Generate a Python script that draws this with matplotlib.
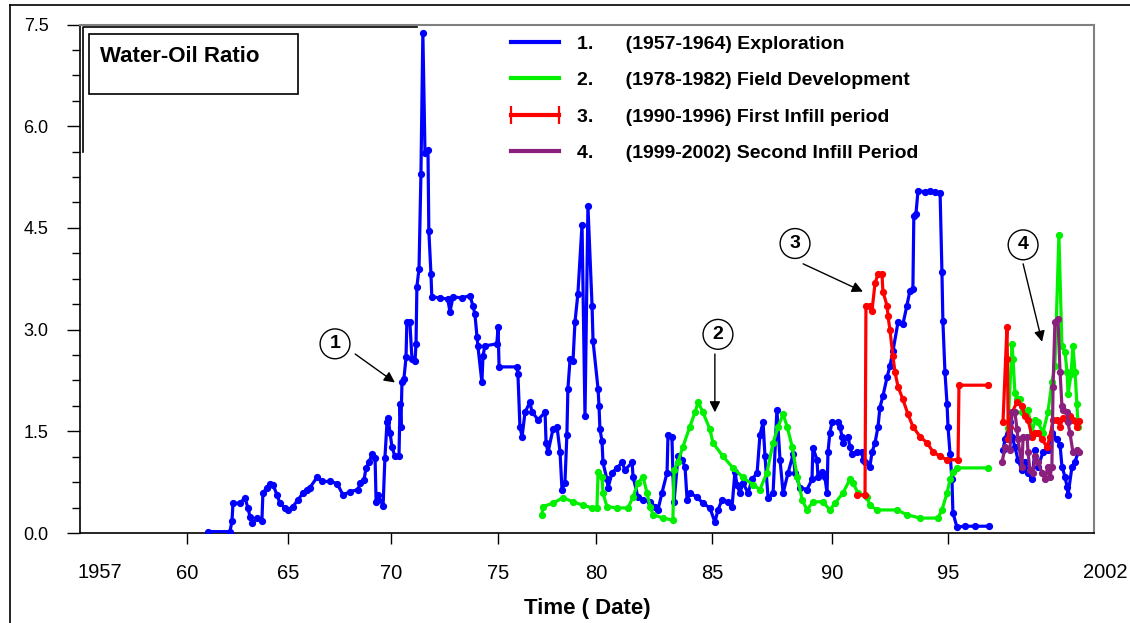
"""Water-Oil Ratio history by development period."""
import numpy as np
import matplotlib
matplotlib.use("Agg")
import matplotlib.pyplot as plt
from matplotlib.lines import Line2D
from matplotlib.patches import Rectangle

plt.rcParams["font.family"] = ["Liberation Sans", "DejaVu Sans"]

nan = np.nan

# ---- data (year, water-oil ratio) ----
expl_year = [1961.02, 1962.11, 1962.21, 1962.26, 1962.61, 1962.85, 1963.00, 1963.10, 1963.20, 1963.45,
             1963.69, 1963.74, 1963.94, 1964.09, 1964.24, 1964.44, 1964.58, 1964.83, 1964.98, 1965.22,
             1965.47, 1965.71, 1965.91, 1966.05, 1966.39, 1966.64, 1967.03, 1967.37, 1967.66, 1968.00,
             1968.39, 1968.49, 1968.68, 1968.78, 1968.92, 1969.07, 1969.22, 1969.27, 1969.36, 1969.61,
             1969.70, 1969.80, 1969.85, 1969.95, 1970.04, 1970.18, 1970.37, 1970.42, 1970.46, 1970.51,
             1970.60, 1970.70, 1970.74, 1970.88, 1970.98, 1971.12, 1971.17, 1971.21, 1971.31, 1971.40,
             1971.49, 1971.59, 1971.73, 1971.77, 1971.87, 1971.91, 1972.29, 1972.66, 1972.76, 1972.90,
             1973.32, 1973.70, 1973.84, 1973.93, 1974.03, 1974.07, 1974.26, 1974.31, 1974.40, 1974.96,
             1975.02, 1975.07, 1975.98, 1976.03, 1976.13, 1976.24, 1976.39, 1976.64, 1976.74, 1977.05,
             1977.41, 1977.46, 1977.56, 1977.81, 1978.02, 1978.17, 1978.27, 1978.42, 1978.52, 1978.57,
             1978.68, 1978.83, 1978.93, 1979.08, 1979.29, 1979.44, 1979.59, 1979.80, 1979.85, 1980.09,
             1980.13, 1980.17, 1980.26, 1980.30, 1980.47, 1980.52, 1980.69, 1980.90, 1981.12, 1981.24,
             1981.55, 1981.59, 1981.80, 1982.02, 1982.32, 1982.53, 1982.66, 1982.83, 1983.05, 1983.09,
             1983.26, 1983.30, 1983.35, 1983.52, 1983.69, 1983.82, 1983.91, 1984.03, 1984.33, 1984.59,
             1984.89, 1985.10, 1985.23, 1985.40, 1985.65, 1985.82, 1985.94, 1986.03, 1986.15, 1986.28,
             1986.49, 1986.66, 1986.87, 1986.99, 1987.12, 1987.20, 1987.33, 1987.54, 1987.70, 1987.83,
             1987.96, 1988.17, 1988.38, 1988.46, 1988.67, 1988.96, 1989.17, 1989.21, 1989.38, 1989.42,
             1989.59, 1989.71, 1989.80, 1989.84, 1989.92, 1990.01, 1990.27, 1990.35, 1990.44, 1990.48,
             1990.70, 1990.78, 1990.87, 1991.08, 1991.30, 1991.34, 1991.43, 1991.64, 1991.73, 1991.86,
             1991.99, 1992.07, 1992.20, 1992.38, 1992.50, 1992.63, 1992.85, 1993.06, 1993.23, 1993.36,
             1993.49, 1993.53, 1993.62, 1993.71, 1994.01, 1994.23, 1994.44, 1994.66, 1994.74, 1994.78,
             1994.87, 1994.96, 1995.00, 1995.09, 1995.17, 1995.21, 1995.38, 1995.73, 1996.15, 1996.75,
             nan,
             1997.35, 1997.44, 1997.65, 1997.74, 1997.86, 1997.99, 1998.16, 1998.29, 1998.42, 1998.59,
             1998.72, 1998.85, 1999.06, 1999.27, 1999.44, 1999.66, 1999.79, 1999.87, 2000.00, 2000.09,
             2000.13, 2000.30, 2000.43, 2000.56]
expl_wor = [0.02, 0.02, 0.18, 0.44, 0.44, 0.52, 0.37, 0.24, 0.15, 0.22,
            0.18, 0.59, 0.67, 0.73, 0.71, 0.56, 0.44, 0.37, 0.34, 0.39,
            0.49, 0.59, 0.64, 0.67, 0.82, 0.76, 0.76, 0.73, 0.56, 0.61,
            0.64, 0.74, 0.78, 0.96, 1.04, 1.16, 1.11, 0.46, 0.56, 0.40,
            1.11, 1.63, 1.69, 1.48, 1.27, 1.13, 1.13, 1.90, 1.57, 2.22,
            2.27, 2.59, 3.11, 3.11, 2.56, 2.53, 2.79, 3.63, 3.90, 5.30,
            7.38, 5.60, 5.65, 4.46, 3.82, 3.48, 3.47, 3.45, 3.26, 3.48,
            3.47, 3.50, 3.35, 3.23, 2.89, 2.76, 2.22, 2.61, 2.76, 2.79,
            3.04, 2.45, 2.45, 2.34, 1.57, 1.42, 1.78, 1.93, 1.79, 1.67,
            1.78, 1.33, 1.19, 1.53, 1.56, 1.20, 0.64, 0.74, 1.45, 2.12,
            2.56, 2.53, 3.11, 3.53, 4.55, 1.72, 4.82, 3.35, 2.83, 2.12,
            1.87, 1.53, 1.35, 1.04, 0.79, 0.67, 0.89, 0.96, 1.04, 0.93,
            1.04, 0.83, 0.53, 0.49, 0.46, 0.39, 0.34, 0.59, 0.89, 1.45,
            1.42, 0.89, 0.46, 1.13, 1.08, 0.98, 0.49, 0.59, 0.53, 0.44,
            0.37, 0.16, 0.34, 0.49, 0.46, 0.39, 0.90, 0.71, 0.59, 0.74,
            0.59, 0.79, 0.89, 1.45, 1.63, 1.13, 0.52, 0.59, 1.82, 1.08,
            0.59, 0.89, 1.16, 0.89, 0.67, 0.64, 0.79, 1.26, 1.08, 0.83,
            0.90, 0.83, 0.59, 1.19, 1.48, 1.63, 1.63, 1.57, 1.42, 1.33,
            1.42, 1.27, 1.16, 1.20, 1.19, 1.08, 1.05, 0.98, 1.19, 1.33,
            1.57, 1.85, 2.02, 2.30, 2.46, 2.68, 3.11, 3.08, 3.35, 3.57,
            3.60, 4.67, 4.70, 5.05, 5.03, 5.05, 5.03, 5.02, 3.85, 3.13,
            2.37, 1.90, 1.57, 1.16, 0.79, 0.30, 0.09, 0.10, 0.10, 0.10,
            nan,
            1.23, 1.38, 1.63, 1.42, 1.27, 1.08, 0.93, 1.04, 0.89, 0.79,
            1.23, 0.98, 1.19, 1.23, 1.48, 1.38, 1.30, 0.98, 0.83, 0.68,
            0.56, 0.98, 1.05, 1.19]

dev_year = [1977.25, 1977.30, 1977.81, 1978.32, 1978.83, 1979.34, 1979.80, 1980.04, 1980.09, 1980.26,
            1980.30, 1980.47, 1980.90, 1981.37, 1981.59, 1981.80, 1982.02, 1982.19, 1982.32, 1982.45,
            1982.88, 1983.30, 1983.35, 1983.52, 1983.73, 1984.03, 1984.25, 1984.38, 1984.59, 1984.89,
            1985.02, 1985.44, 1985.86, 1986.28, 1986.70, 1986.99, 1987.28, 1987.54, 1987.75, 1987.96,
            1988.13, 1988.34, 1988.55, 1988.76, 1988.96, 1989.21, 1989.63, 1989.92, 1990.14, 1990.48,
            1990.78, 1990.91, 1991.13, 1991.51, 1991.64, 1991.94, 1992.80, 1993.23, 1993.80, 1994.57,
            1994.74, 1994.96, 1995.09, 1995.21, 1995.38, 1996.71,
            nan,
            1997.56, 1997.74, 1997.78, 1997.86, 1997.95, 1998.08, 1998.16, 1998.42, 1998.59, 1998.72,
            1998.85, 1999.06, 1999.27, 1999.44, 1999.57, 1999.74, 1999.87, 2000.00, 2000.09, 2000.13,
            2000.26, 2000.34, 2000.43, 2000.51, 2000.56]
dev_wor = [0.27, 0.39, 0.44, 0.52, 0.46, 0.41, 0.37, 0.37, 0.90, 0.83,
           0.59, 0.39, 0.37, 0.37, 0.53, 0.74, 0.83, 0.59, 0.39, 0.27,
           0.22, 0.19, 0.93, 1.05, 1.27, 1.57, 1.78, 1.93, 1.78, 1.53,
           1.33, 1.13, 0.96, 0.82, 0.71, 0.64, 0.89, 1.33, 1.57, 1.75,
           1.57, 1.27, 0.83, 0.49, 0.34, 0.46, 0.46, 0.34, 0.44, 0.59,
           0.79, 0.74, 0.59, 0.53, 0.41, 0.34, 0.34, 0.27, 0.22, 0.22,
           0.34, 0.59, 0.79, 0.90, 0.96, 0.96,
           nan,
           1.55, 2.79, 2.56, 2.07, 1.97, 1.97, 1.78, 1.82, 1.48, 1.67,
           1.63, 1.48, 1.78, 2.22, 2.46, 4.39, 2.76, 2.67, 2.37, 2.05,
           2.34, 2.76, 2.37, 1.90, 1.57]

infill1_year = [1991.08, 1991.43, 1991.47, 1991.64, 1991.73, 1991.86, 1991.99, 1992.16, 1992.20, 1992.38,
                1992.42, 1992.50, 1992.63, 1992.72, 1992.85, 1993.06, 1993.28, 1993.49, 1993.80, 1994.10,
                1994.35, 1994.66, 1994.96, 1995.43, 1995.47, 1996.71,
                nan,
                1997.35, 1997.52, 1997.54, 1997.58, 1997.65, 1997.74, 1997.95, 1998.16, 1998.29, 1998.42,
                1998.59, 1998.72, 1998.85, 1999.02, 1999.23, 1999.36, 1999.49, 1999.66, 1999.79, 1999.91,
                2000.09, 2000.21, 2000.34, 2000.51, 2000.60]
infill1_wor = [0.56, 0.56, 3.35, 3.35, 3.28, 3.68, 3.82, 3.82, 3.56, 3.35,
               3.20, 3.00, 2.61, 2.37, 2.16, 1.97, 1.75, 1.57, 1.42, 1.33,
               1.20, 1.13, 1.08, 1.08, 2.18, 2.18,
               nan,
               1.63, 3.04, 2.56, 1.38, 1.57, 1.78, 1.93, 1.87, 1.72, 1.67,
               1.42, 1.48, 1.48, 1.38, 1.27, 1.42, 1.67, 1.67, 1.57, 1.70,
               1.67, 1.72, 1.67, 1.57, 1.65]

infill2_year = [1997.31, 1997.44, 1997.65, 1997.74, 1997.86, 1997.95, 1997.99, 1998.16, 1998.21, 1998.38,
                1998.42, 1998.50, 1998.63, 1998.72, 1998.85, 1999.02, 1999.15, 1999.27, 1999.36, 1999.44,
                1999.49, 1999.57, 1999.70, 1999.79, 1999.87, 1999.91, 2000.09, 2000.13, 2000.21, 2000.34,
                2000.51, 2000.60]
infill2_wor = [1.04, 1.27, 1.23, 1.78, 1.78, 1.53, 1.38, 0.98, 1.42, 1.42,
               1.19, 0.93, 0.89, 1.13, 1.04, 0.89, 0.79, 0.98, 0.83, 0.98,
               2.16, 3.11, 3.16, 2.37, 1.87, 1.82, 1.78, 1.63, 1.48, 1.19,
               1.23, 1.19]

labels = ["1.      (1957-1964) Exploration",
          "2.      (1978-1982) Field Development",
          "3.      (1990-1996) First Infill period",
          "4.      (1999-2002) Second Infill Period"]
colors = ["#0000ff", "#00f000", "#ff0000", "#8a1f7e"]

tick_years = [1960, 1965, 1970, 1975, 1980, 1985, 1990, 1995]
tick_labels = ["60", "65", "70", "75", "80", "85", "90", "95"]

# the source axis is not linear in time: tick spacing differs per period
knot_years = [1957, 1960, 1965, 1970, 1975, 1980, 1985, 1990, 1995, 2002]
knot_pos = [80, 187.3, 288.4, 391.1, 497.7, 596, 712.5, 831.8, 948, 1111.8]


def fwd(x):
    return np.interp(x, knot_years, knot_pos)


def inv(p):
    return np.interp(p, knot_pos, knot_years)


W, H = 1130, 623
fig = plt.figure(figsize=(W / 100, H / 100), dpi=100)
ax = fig.add_axes([80 / W, 1 - 533 / H, (1094 - 80) / W, (533 - 24.5) / H])
ax.set_xscale("function", functions=(fwd, inv))

series = [(expl_year, expl_wor), (dev_year, dev_wor),
          (infill1_year, infill1_wor), (infill2_year, infill2_wor)]
for (xs, ys), c in zip(series, colors):
    ax.plot(xs, ys, color=c, lw=2.3, marker="o", ms=4.2, mec=c, mfc=c, zorder=3)

ax.set_xlim(1957, 2001.24)
ax.set_ylim(0, 7.5)
ax.set_xticks(tick_years)
ax.set_xticklabels(tick_labels)
ax.set_yticks(np.arange(0, 7.6, 1.5))
ax.set_yticklabels([f"{v:.1f}" for v in np.arange(0, 7.6, 1.5)])
ax.set_yticks(np.arange(0, 7.6, 0.375), minor=True)
ax.tick_params(axis="x", direction="out", length=8, width=1, pad=14, labelsize=14.5)
ax.tick_params(axis="y", which="major", direction="out", length=9.5, width=1, pad=13, labelsize=13)
ax.tick_params(axis="y", which="minor", direction="out", length=5.5, width=1)
for s in ("left", "bottom"):
    ax.spines[s].set_color("black")
    ax.spines[s].set_linewidth(1.2)
for s in ("top", "right"):
    ax.spines[s].set_color("#808080")
    ax.spines[s].set_linewidth(1.5)

ax.set_xlabel("Time ( Date)", fontsize=16, fontweight="bold", labelpad=11)
fig.text(100 / W, 1 - 573 / H, "1957", fontsize=14.5, ha="center", va="center")
fig.text(1105 / W, 1 - 573 / H, "2002", fontsize=14.5, ha="center", va="center")

# legend
handles = [Line2D([], [], color=colors[0], lw=3),
           Line2D([], [], color=colors[1], lw=3),
           Line2D([], [], color=colors[2], lw=3, marker="|", ms=13, mew=1.6),
           Line2D([], [], color=colors[3], lw=3)]
leg = fig.legend(handles, labels, loc="upper left", bbox_to_anchor=(505 / W, 1 - 35 / H),
                 frameon=False, numpoints=2, handlelength=3.1, handletextpad=0.6,
                 labelspacing=0.97, borderpad=0, borderaxespad=0,
                 prop={"weight": "bold", "size": 14})

# title box
fig.add_artist(Rectangle((89 / W, 1 - 94 / H), (298 - 89) / W, (94 - 34) / H,
                         transform=fig.transFigure, fill=False, ec="black", lw=1.2))
fig.text(100 / W, 1 - 56 / H, "Water-Oil Ratio", fontsize=16, fontweight="bold",
         ha="left", va="center")

# frame remnants from the original figure
fig.add_artist(Line2D([10 / W, 10 / W], [0, 1 - 5 / H], transform=fig.transFigure, color="black", lw=1.2))
fig.add_artist(Line2D([10 / W, 1], [1 - 5 / H, 1 - 5 / H], transform=fig.transFigure, color="black", lw=1.2))
fig.add_artist(Line2D([82.5 / W, 82.5 / W, 417 / W], [1 - 152 / H, 1 - 27 / H, 1 - 27 / H],
                      transform=fig.transFigure, color="black", lw=1.2))

# numbered callouts
callouts = [("1", (1967.27, 2.79), (1968.25, 2.64), (1970.18, 2.22)),
            ("2", (1985.23, 2.93), (1985.10, 2.64), (1985.10, 1.78)),
            ("3", (1988.46, 4.27), (1988.80, 3.97), (1991.34, 3.56)),
            ("4", (1998.21, 4.25), (1998.21, 3.97), (1999.02, 2.82))]
for num, (cx, cy), tail, tip in callouts:
    ax.text(cx, cy, num, fontsize=14, fontweight="bold", ha="center", va="center",
            bbox=dict(boxstyle="circle,pad=0.33", fc="white", ec="black", lw=1), zorder=5)
    ax.annotate("", xy=tip, xytext=tail,
                arrowprops=dict(arrowstyle="-|>", color="black", lw=1, mutation_scale=16,
                                shrinkA=0, shrinkB=0), zorder=5)

fig.savefig("out.png", dpi=100)
print("Saved out.png")
